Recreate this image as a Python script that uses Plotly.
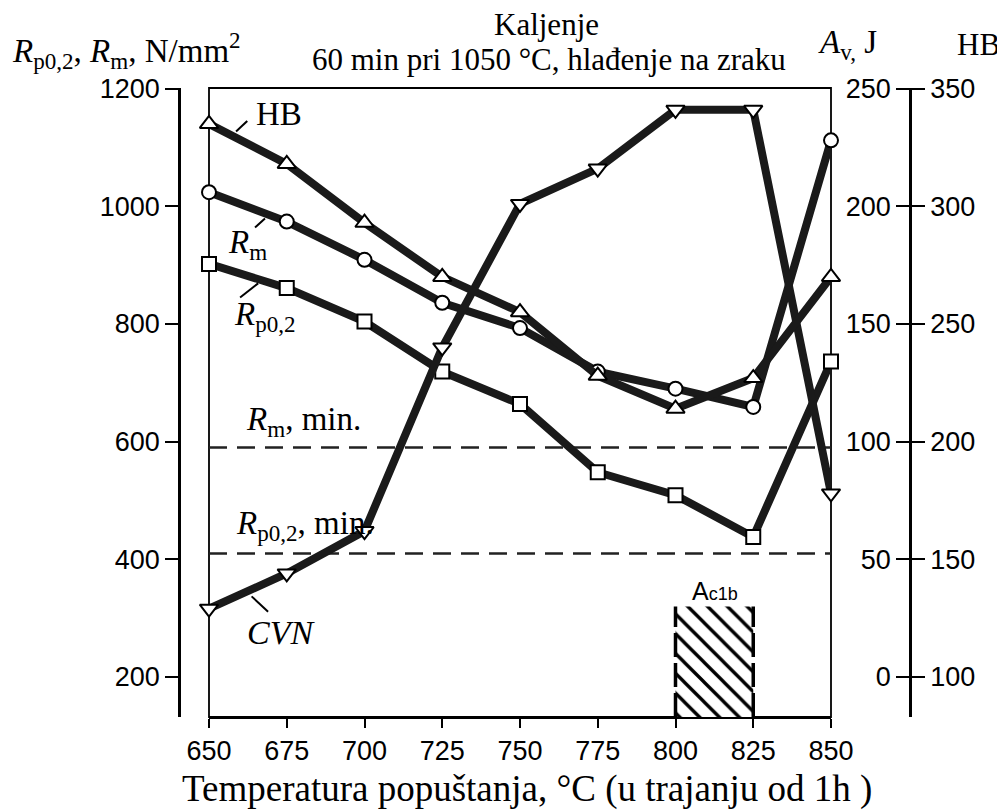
import plotly.graph_objects as go

# ---------------- data ----------------
temps = [650, 675, 700, 725, 750, 775, 800, 825, 850]
hb = [335, 318, 293, 270, 255, 228, 214, 227, 270]            # HB
rm = [1024, 974, 909, 836, 793, 719, 690, 659, 1112]          # N/mm2
rp02 = [902, 861, 804, 719, 664, 548, 509, 438, 736]          # N/mm2
cvn = [29, 44, 62, 140, 201, 216, 241, 241, 78]               # Av, J
rm_min = 590
rp02_min = 410
ac1b_range = [800, 825]
ac1b_top = 320

x_ticks = [650, 675, 700, 725, 750, 775, 800, 825, 850]
left_ticks = [200, 400, 600, 800, 1000, 1200]
av_ticks = [0, 50, 100, 150, 200, 250]
hb_ticks = [100, 150, 200, 250, 300, 350]

# ---------------- layout constants ----------------
Y_RANGE = [132, 1201]


def to_av(v):
    return (v - 200) / 4.0


def to_hb(v):
    return 100 + (v - 200) / 4.0


SANS = "Liberation Sans"
SERIF = "Liberation Serif"
OFF = 8                       # page body margin
W, H = 1005 - OFF, 812 - OFF
# plot paper in page pixels
P_L, P_R, P_T, P_B = 179, 910, 88, 717
ML, MT = P_L - OFF, P_T - OFF
MR = W - (P_R - OFF)
MB = H - (P_B - OFF)
PW = P_R - P_L
PH = P_B - P_T
X0_PX, X1_PX = 209, 831
XDOM = [(X0_PX - P_L) / PW, (X1_PX - P_L) / PW]

LW = 8
MS = 14
mk = dict(color="white", line=dict(color="black", width=2))
LC = "#1a1a1a"

fig = go.Figure()

# Ac1b hatched zone
fig.add_trace(go.Bar(
    x=[(ac1b_range[0] + ac1b_range[1]) / 2],
    y=[ac1b_top - Y_RANGE[0]], base=[Y_RANGE[0]],
    width=[ac1b_range[1] - ac1b_range[0]],
    marker=dict(color="white", line=dict(width=0),
                pattern=dict(shape="\\", fgcolor="black", bgcolor="white",
                             fgopacity=1, size=14, solidity=0.24)),
    yaxis="y", showlegend=False, hoverinfo="skip"))
fig.add_trace(go.Scatter(
    x=[ac1b_range[0], ac1b_range[0], None, ac1b_range[1], ac1b_range[1]],
    y=[Y_RANGE[0], ac1b_top, None, Y_RANGE[0], ac1b_top],
    mode="lines", line=dict(color="black", width=3.5, dash="24px,6px"),
    showlegend=False, hoverinfo="skip"))

# minimum lines
for v in (rm_min, rp02_min):
    fig.add_trace(go.Scatter(
        x=[x_ticks[0], x_ticks[-1]], y=[v, v], mode="lines",
        line=dict(color="#222", width=2.5, dash="18px,10px"),
        showlegend=False, hoverinfo="skip"))

# Rp0,2 and Rm
fig.add_trace(go.Scatter(x=temps, y=rp02, mode="lines+markers", cliponaxis=False,
                         line=dict(color=LC, width=LW),
                         marker=dict(symbol="square", size=MS, **mk),
                         showlegend=False))
fig.add_trace(go.Scatter(x=temps, y=rm, mode="lines+markers", cliponaxis=False,
                         line=dict(color=LC, width=LW),
                         marker=dict(symbol="circle", size=MS, **mk),
                         showlegend=False))
# CVN (Av, J)
fig.add_trace(go.Scatter(x=temps, y=cvn, mode="lines+markers", yaxis="y2",
                         cliponaxis=False,
                         line=dict(color=LC, width=LW),
                         marker=dict(symbol="triangle-down", size=MS + 2, **mk),
                         showlegend=False))
# HB
fig.add_trace(go.Scatter(x=temps, y=hb, mode="lines+markers", yaxis="y3",
                         cliponaxis=False,
                         line=dict(color=LC, width=LW),
                         marker=dict(symbol="triangle-up", size=MS + 2, **mk),
                         showlegend=False))

tickfont = dict(family=SANS, size=27, color="black")
fig.update_layout(
    width=W, height=H,
    margin=dict(l=ML, r=MR, t=MT, b=MB, pad=0),
    paper_bgcolor="white", plot_bgcolor="white",
    showlegend=False,
    xaxis=dict(domain=XDOM, range=[650, 850], tickvals=x_ticks,
               ticks="outside", ticklen=9, tickwidth=2, tickcolor="black",
               showline=True, linewidth=2, linecolor="black",
               showgrid=False, zeroline=False, tickfont=tickfont),
    yaxis=dict(anchor="free", position=0, range=Y_RANGE, tickvals=left_ticks,
               ticks="outside", ticklen=13, tickwidth=2, tickcolor="black",
               showline=True, linewidth=2.5, linecolor="black",
               showgrid=False, zeroline=False, tickfont=tickfont),
    yaxis2=dict(overlaying="y", anchor="free", position=1, side="left",
                range=[to_av(Y_RANGE[0]), to_av(Y_RANGE[1])], tickvals=av_ticks,
                ticks="outside", ticklen=13, tickwidth=2, tickcolor="black",
                showline=True, linewidth=2.5, linecolor="black",
                showgrid=False, zeroline=False, tickfont=tickfont),
    yaxis3=dict(overlaying="y", anchor="free", position=1, side="right",
                range=[to_hb(Y_RANGE[0]), to_hb(Y_RANGE[1])], tickvals=hb_ticks,
                ticks="outside", ticklen=13, tickwidth=2, tickcolor="black",
                showline=True, linewidth=2.5, linecolor="black",
                showgrid=False, zeroline=False, tickfont=tickfont),
)

# plot box
fig.add_shape(type="rect", xref="x domain", yref="y domain", x0=0, x1=1, y0=0, y1=1,
              line=dict(color="black", width=1.8), layer="below")

# leader lines
for (xa, ya, xb, yb) in [(658.7, 1127, 662.3, 1145),
                         (664.8, 964, 668.0, 979),
                         (660.0, 845, 665.8, 869),
                         (669.0, 311, 663.7, 337)]:
    fig.add_shape(type="line", xref="x", yref="y", x0=xa, y0=ya, x1=xb, y1=yb,
                  line=dict(color="black", width=2))

serif = lambda s: dict(family=SERIF, size=s, color="black")


def px_x(p):
    return (p - P_L) / PW


def px_y(p):
    return (P_B - p) / PH


ann = [
    # inside labels (data coords)
    dict(x=672.5, y=1156, xref="x", yref="y", text="HB", font=serif(33)),
    dict(x=662.5, y=935, xref="x", yref="y", text="<i>R</i><sub>m</sub>", font=serif(33)),
    dict(x=668, y=812, xref="x", yref="y", text="<i>R</i><sub>p0,2</sub>", font=serif(33)),
    dict(x=680.5, y=634, xref="x", yref="y", text="<i>R</i><sub>m</sub>, min.", font=serif(33)),
    dict(x=681, y=457, xref="x", yref="y", text="<i>R</i><sub>p0,2</sub>, min.", font=serif(33)),
    dict(x=673, y=275, xref="x", yref="y", text="<i>CVN</i>", font=serif(34)),
    dict(x=px_x(715), y=px_y(591), xref="paper", yref="paper",
         text="A<span style='font-size:18px'>c1b</span>",
         font=dict(family=SANS, size=25, color="black")),
    # outside labels (paper coords)
    dict(x=px_x(10), y=px_y(50), xref="paper", yref="paper", xanchor="left",
         text="<i>R</i><sub>p0,2</sub>, <i>R</i><sub>m</sub>, N/mm<sup>2</sup>", font=serif(33)),
    dict(x=px_x(546), y=px_y(24), xref="paper", yref="paper",
         text="Kaljenje", font=serif(31)),
    dict(x=px_x(549), y=px_y(59), xref="paper", yref="paper",
         text="60 min pri 1050 °C, hlađenje na zraku", font=serif(31)),
    dict(x=px_x(847), y=px_y(45), xref="paper", yref="paper",
         text="<i>A</i><sub>v,</sub> J", font=serif(33)),
    dict(x=px_x(978), y=px_y(44), xref="paper", yref="paper",
         text="HB", font=serif(31)),
    dict(x=px_x(527), y=px_y(789), xref="paper", yref="paper",
         text="Temperatura popuštanja, °C (u trajanju od 1h )",
         font=serif(37)),
]
for a in ann:
    a.setdefault("showarrow", False)
    a.setdefault("xanchor", "center")
    a.setdefault("yanchor", "middle")
    fig.add_annotation(**a)

fig.write_html("out.html")
